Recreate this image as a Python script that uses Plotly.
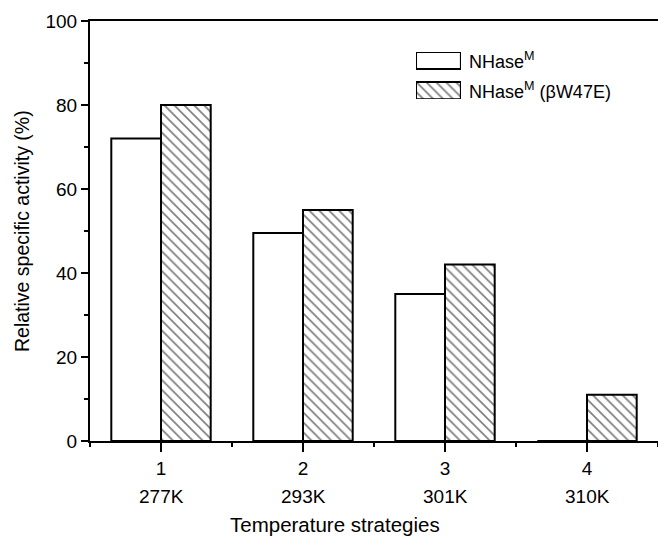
import plotly.graph_objects as go

positions = [1, 2, 3, 4]
temps = ["277K", "293K", "301K", "310K"]
nhase_m = [72, 49.5, 35, 0]
nhase_m_w47e = [80, 55, 42, 11]
legend_labels = ["NHase<sup>M</sup>", "NHase<sup>M</sup> (βW47E)"]

FONT = "Liberation Sans, Arial, sans-serif"
BW = 0.35
HATCH = dict(shape="\\", fgcolor="black", bgcolor="white", size=7, solidity=0.24)

fig = go.Figure()
fig.add_trace(go.Bar(
    x=positions, y=nhase_m, width=BW, offset=-BW,
    marker=dict(color="white", line=dict(color="black", width=2)),
    showlegend=False,
))
fig.add_trace(go.Bar(
    x=positions, y=nhase_m_w47e, width=BW, offset=0,
    marker=dict(color="white", line=dict(color="black", width=2), pattern=HATCH),
    showlegend=False,
))

# legend swatches in an inset axis
fig.add_trace(go.Bar(
    x=[1], y=[1], orientation="h", width=0.567, xaxis="x2", yaxis="y2",
    marker=dict(color="white", line=dict(color="black", width=2)),
    showlegend=False, hoverinfo="skip",
))
fig.add_trace(go.Bar(
    x=[1], y=[0], orientation="h", width=0.567, xaxis="x2", yaxis="y2",
    marker=dict(color="white", line=dict(color="black", width=2), pattern=HATCH),
    showlegend=False, hoverinfo="skip",
))

annotations = []
for p, t in zip(positions, temps):
    annotations.append(dict(x=p, y=0, xref="x", yref="paper", text=t,
                            showarrow=False, yanchor="middle", yshift=-55,
                            font=dict(size=19, family=FONT, color="black")))
annotations.append(dict(x=0.431, y=0, xref="paper", yref="paper",
                        text="Temperature strategies", showarrow=False,
                        yanchor="middle", yshift=-83,
                        font=dict(size=20.5, family=FONT, color="black")))
annotations.append(dict(x=0, y=0.5, xref="paper", yref="paper",
                        text="Relative specific activity (%)", showarrow=False,
                        textangle=-90, xanchor="center", xshift=-68,
                        font=dict(size=19.5, family=FONT, color="black")))
for i, lab in enumerate(legend_labels):
    annotations.append(dict(x=0.663, y=[0.906, 0.835][i], xref="paper", yref="paper",
                            text=lab, showarrow=False, xanchor="left",
                            yanchor="middle",
                            font=dict(size=18, family=FONT, color="black")))

fig.update_layout(
    width=658, height=537,
    margin=dict(l=90, r=0, t=21, b=96),
    paper_bgcolor="white", plot_bgcolor="white",
    barmode="overlay",
    font=dict(family=FONT, size=19, color="black"),
    xaxis=dict(range=[0.5, 4.5], tickvals=positions,
               ticktext=[str(p) for p in positions],
               ticks="outside", ticklen=9, tickwidth=2, tickcolor="black",
               minor=dict(dtick=0.5, tick0=0.5, ticks="outside", ticklen=4,
                          tickwidth=2, tickcolor="black"),
               showline=True, linecolor="black", linewidth=2, mirror=True,
               showgrid=False, zeroline=False,
               tickfont=dict(size=19, family=FONT, color="black")),
    yaxis=dict(range=[0, 100], dtick=20, ticks="outside", ticklen=7,
               tickwidth=2, tickcolor="black",
               minor=dict(dtick=10, ticks="outside", ticklen=4, tickwidth=2,
                          tickcolor="black"),
               showline=True, linecolor="black", linewidth=2,
               showgrid=False, zeroline=False,
               tickfont=dict(size=19, family=FONT, color="black")),
    xaxis2=dict(domain=[0.574, 0.653], range=[0, 1], visible=False,
                anchor="y2", fixedrange=True),
    yaxis2=dict(domain=[0.814, 0.926], range=[-0.283, 1.283], visible=False,
                anchor="x2", fixedrange=True),
    annotations=annotations,
)

fig.write_html("out.html")
